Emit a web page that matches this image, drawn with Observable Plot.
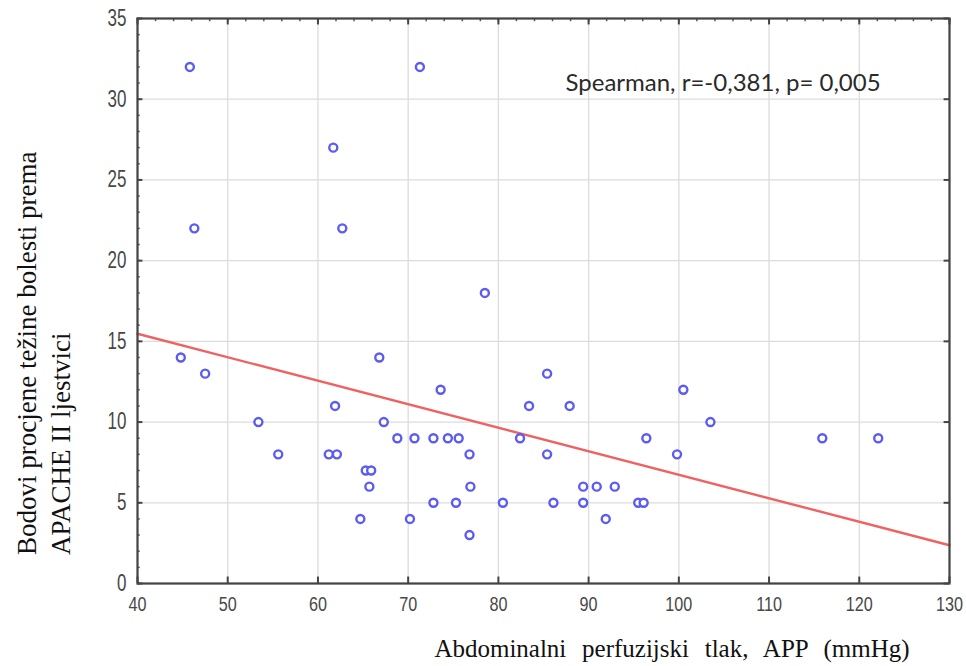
<!DOCTYPE html>
<html>
<head>
<meta charset="utf-8">
<script src="https://cdn.jsdelivr.net/npm/d3@7"></script>
<script src="https://cdn.jsdelivr.net/npm/@observablehq/plot@0.6"></script>
<style>
  html, body { margin: 0; padding: 0; background: #fff; }
</style>
</head>
<body>
<div id="chart"></div>
<script>
// APP (mmHg) values and APACHE II scores
const app = [45.8, 71.3, 61.7, 46.3, 62.7, 78.5, 44.8, 66.8, 47.5, 85.4, 73.6, 100.5, 61.9, 83.4, 87.9, 53.4, 67.3, 103.5,
  68.8, 70.7, 72.8, 74.4, 75.6, 82.4, 96.4, 115.9, 122.1, 55.6, 61.2, 62.1, 76.8, 85.4, 99.8, 65.3, 65.9,
  65.7, 76.9, 89.4, 90.9, 92.9, 72.8, 75.3, 80.5, 86.1, 89.4, 95.5, 96.1, 64.7, 70.2, 91.9, 76.8];
const apache = [32, 32, 27, 22, 22, 18, 14, 14, 13, 13, 12, 12, 11, 11, 11, 10, 10, 10,
  9, 9, 9, 9, 9, 9, 9, 9, 9, 8, 8, 8, 8, 8, 8, 7, 7,
  6, 6, 6, 6, 6, 5, 5, 5, 5, 5, 5, 5, 4, 4, 4, 3];
// fitted line end points
const fitX = [40, 130];
const fitY = [15.47, 2.37];
const xTicks = [40, 50, 60, 70, 80, 90, 100, 110, 120, 130];
const yTicks = [0, 5, 10, 15, 20, 25, 30, 35];
const xMinor = d3.range(40, 131, 2);
const yMinor = d3.range(0, 36, 1);
const annotation = "Spearman, r=-0,381, p= 0,005";
const xTitle = "Abdominalni perfuzijski tlak, APP (mmHg)";
const yTitle = ["Bodovi procjene težine bolesti prema", "APACHE II ljestvici"];

const points = app.map((v, i) => ({app: v, apache: apache[i]}));
const fit = fitX.map((v, i) => ({x: v, y: fitY[i]}));
const tickFont = "'Liberation Sans', Arial, sans-serif";

const svg = Plot.plot({
  width: 966,
  height: 666,
  marginLeft: 137,
  marginRight: 17,
  marginTop: 18,
  marginBottom: 83,
  style: {background: "#fff", fontFamily: "'Liberation Sans', Arial, sans-serif"},
  x: {domain: [40, 130], ticks: xTicks},
  y: {domain: [0, 35], ticks: yTicks},
  marks: [
    Plot.gridX(xTicks, {stroke: "#dcdcdc", strokeOpacity: 1, strokeWidth: 1.3}),
    Plot.gridY(yTicks, {stroke: "#dcdcdc", strokeOpacity: 1, strokeWidth: 1.3}),
    // inner tick marks
    Plot.ruleX(xTicks, {y1: 0, y2: 0.4, stroke: "#444", strokeWidth: 2}),
    Plot.ruleX(xMinor, {y1: 35, y2: 34.8, stroke: "#555", strokeWidth: 1.5}),
    Plot.ruleX(xTicks, {y1: 35, y2: 34.6, stroke: "#444", strokeWidth: 2}),
    Plot.ruleY(yMinor, {x1: 40, x2: 40.3, stroke: "#555", strokeWidth: 1.5}),
    Plot.ruleY(yTicks, {x1: 40, x2: 40.6, stroke: "#444", strokeWidth: 2}),
    Plot.ruleY(yTicks, {x1: 130, x2: 129.4, stroke: "#444", strokeWidth: 2}),
    Plot.axisX(xTicks, {tickSize: 0, tickPadding: 13, fontSize: 21, fill: "#484848", fontFamily: tickFont, label: null}),
    Plot.axisY(yTicks, {tickSize: 0, tickPadding: 11, fontSize: 23, fill: "#484848", fontFamily: tickFont, label: null}),
    Plot.line(fit, {x: "x", y: "y", stroke: "#ef6262", strokeWidth: 2.4}),
    Plot.dot(points, {x: "app", y: "apache", r: 4, stroke: "#5c5cf0", strokeWidth: 2.4, fill: "white"}),
    Plot.text([annotation], {frameAnchor: "top-left", dx: 428, dy: 55, textAnchor: "start",
      fontSize: 24, fill: "#2a2a2a", fontFamily: "Lato, 'Open Sans', sans-serif"}),
    Plot.frame({stroke: "#444", strokeWidth: 2.2})
  ]
});

// condense the tick label glyphs horizontally (the reference uses a narrow face)
function condense(label, k) {
  svg.querySelectorAll(`g[aria-label="${label}"] text`).forEach((t) => {
    const x = +(t.getAttribute("x") || 0);
    const tr = t.getAttribute("transform") || "";
    t.setAttribute("x", 0);
    t.setAttribute("transform", `${tr} translate(${x},0) scale(${k},1)`);
  });
}
condense("x-axis tick label", 0.77);
condense("y-axis tick label", 0.74);

const s = d3.select(svg);
s.append("text")
  .attr("x", 672).attr("y", 657)
  .attr("text-anchor", "middle")
  .attr("font-family", "'Liberation Serif', 'DejaVu Serif', serif")
  .attr("font-size", 25)
  .attr("word-spacing", 9.5)
  .attr("fill", "#111")
  .text(xTitle);
yTitle.forEach((t, i) => {
  s.append("text")
    .attr("transform", `translate(${36 + i * 34},555) rotate(-90)`)
    .attr("text-anchor", "start")
    .attr("font-family", "'Liberation Serif', 'DejaVu Serif', serif")
    .attr("font-size", 27)
    .attr("word-spacing", 0)
    .attr("fill", "#111")
    .text(t);
});
document.getElementById("chart").appendChild(svg);
</script>
</body>
</html>
